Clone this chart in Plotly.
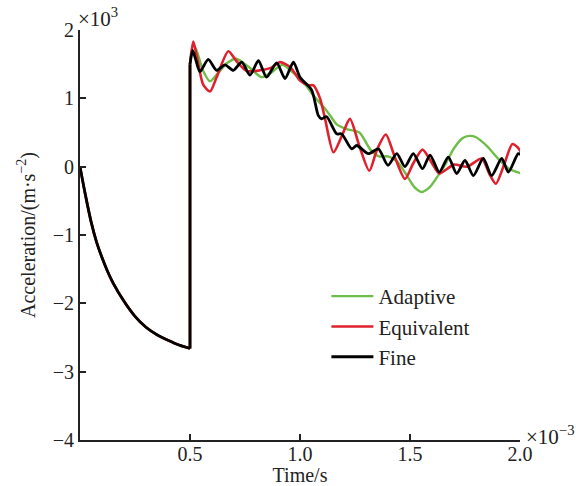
import plotly.graph_objects as go

# ---- data (time in 1e-3 s, acceleration in 1e3 m/s^2) ----
pre_t = [0, 0.025, 0.05, 0.075, 0.1, 0.125, 0.15, 0.2, 0.25, 0.3, 0.35, 0.4, 0.45, 0.5]
pre_a = [0, -0.42, -0.80, -1.10, -1.33, -1.53, -1.70, -1.97, -2.19, -2.35, -2.46, -2.54, -2.61, -2.66]

adaptive_t = [0.5, 0.515, 0.53, 0.56, 0.591, 0.63, 0.67, 0.71, 0.77, 0.825, 0.87, 0.92, 0.96,
              1.015, 1.061, 1.121, 1.167, 1.212, 1.27, 1.32, 1.36, 1.40, 1.44, 1.48, 1.52,
              1.553, 1.59, 1.63, 1.66, 1.70, 1.74, 1.77, 1.80, 1.85, 1.90, 1.95, 2.007]
adaptive_a = [1.50, 1.78, 1.70, 1.40, 1.25, 1.38, 1.52, 1.58, 1.45, 1.31, 1.38, 1.49, 1.40,
              1.24, 1.04, 0.82, 0.62, 0.55, 0.50, 0.25, 0.15, 0.15, 0.08, -0.10, -0.30,
              -0.37, -0.30, -0.12, 0.03, 0.27, 0.42, 0.45, 0.43, 0.30, 0.12, -0.03, -0.10]

equivalent_t = [0.5, 0.515, 0.535, 0.56, 0.591, 0.62, 0.674, 0.71, 0.758, 0.818, 0.87, 0.909,
                0.955, 1.0, 1.038, 1.061, 1.091, 1.114, 1.152, 1.19, 1.227, 1.27, 1.315, 1.35,
                1.39, 1.43, 1.477, 1.515, 1.557, 1.60, 1.633, 1.70, 1.76, 1.826, 1.86, 1.89,
                1.93, 1.965, 1.99, 2.007]
equivalent_a = [1.50, 1.83, 1.55, 1.20, 1.10, 1.30, 1.69, 1.55, 1.40, 1.41, 1.45, 1.53,
                1.46, 1.26, 1.19, 1.19, 1.00, 0.70, 0.21, 0.45, 0.70, 0.30, -0.06, 0.25,
                0.47, 0.15, -0.18, 0.05, 0.25, 0.05, -0.10, 0.03, 0.00, 0.12, -0.10, -0.25,
                0.05, 0.33, 0.28, 0.20]

fine_t = [0.5, 0.512, 0.525, 0.545, 0.583, 0.621, 0.659, 0.697, 0.735, 0.773, 0.811, 0.848,
          0.894, 0.932, 0.970, 1.0, 1.053, 1.083, 1.098, 1.121, 1.167, 1.189, 1.235, 1.258,
          1.311, 1.356, 1.40, 1.44, 1.477, 1.515, 1.557, 1.591, 1.633, 1.674, 1.712, 1.75,
          1.788, 1.833, 1.871, 1.917, 1.947, 1.992, 2.007]
fine_a = [1.50, 1.70, 1.58, 1.39, 1.57, 1.41, 1.49, 1.41, 1.53, 1.34, 1.55, 1.31,
          1.52, 1.29, 1.53, 1.31, 1.12, 0.75, 0.70, 0.73, 0.48, 0.48, 0.26, 0.31,
          0.19, 0.26, 0.02, 0.19, 0.00, 0.19, -0.03, 0.17, -0.08, 0.14, -0.10, 0.09,
          -0.13, 0.12, -0.13, 0.12, -0.08, 0.19, 0.17]

series = [
    ("Adaptive", adaptive_t, adaptive_a, "#6dbd48", 2.4),
    ("Equivalent", equivalent_t, equivalent_a, "#e0202c", 2.6),
    ("Fine", fine_t, fine_a, "#000000", 2.8),
]

FONT = "Liberation Serif, Times New Roman, serif"
FS = 20

fig = go.Figure()
for name, t, a, col, w in series:
    # smooth decay before the impact
    fig.add_trace(go.Scatter(
        x=pre_t, y=pre_a, mode="lines", name=name, legendgroup=name, showlegend=False,
        line=dict(color=col, width=w, shape="spline", smoothing=0.8), hoverinfo="skip"))
    # vertical jump at the impact instant
    fig.add_trace(go.Scatter(
        x=[pre_t[-1], t[0]], y=[pre_a[-1], a[0]], mode="lines", name=name,
        legendgroup=name, showlegend=False,
        line=dict(color=col, width=w), hoverinfo="skip"))
    # oscillating response after the impact
    fig.add_trace(go.Scatter(
        x=t, y=a, mode="lines", name=name, legendgroup=name, showlegend=True,
        line=dict(color=col, width=w, shape="spline", smoothing=0.7)))

fig.update_layout(
    width=576, height=486,
    margin=dict(l=80, r=56, t=30, b=46),
    paper_bgcolor="white", plot_bgcolor="white",
    font=dict(family=FONT, size=FS, color="#222"),
    showlegend=True,
    legend=dict(x=0.56, y=0.40, xanchor="left", yanchor="top",
                bgcolor="rgba(0,0,0,0)", font=dict(size=21, family=FONT),
                tracegroupgap=0, traceorder="grouped", itemwidth=42),
    xaxis=dict(range=[0, 2.0], showgrid=False, zeroline=False, automargin=False,
               showline=True, linecolor="#222", linewidth=2,
               ticks="inside", ticklen=6, tickwidth=1.5, tickcolor="#222",
               tickvals=[0.5, 1.0, 1.5, 2.0], ticktext=["0.5", "1.0", "1.5", "2.0"],
               ticklabelstandoff=-5,
               title=dict(text="Time/s", standoff=0, font=dict(size=FS))),
    yaxis=dict(range=[-4, 2], showgrid=False, zeroline=False, automargin=False,
               showline=True, linecolor="#222", linewidth=2,
               ticks="inside", ticklen=6, tickwidth=1.5, tickcolor="#222",
               tickvals=[-4, -3, -2, -1, 0, 1, 2],
               ticktext=["\u22124", "\u22123", "\u22122", "\u22121", "0", "1", "2"],
               title=dict(text="Acceleration/(m\u00b7s<sup>\u22122</sup>)", standoff=12,
                          font=dict(size=FS))),
    annotations=[
        dict(text="\u00d710<sup>3</sup>", xref="paper", yref="paper",
             x=-0.01, y=1.03, xanchor="left", yanchor="middle", showarrow=False,
             font=dict(size=21, family=FONT)),
        dict(text="\u00d710<sup>\u22123</sup>", xref="paper", yref="paper",
             x=1.01, y=0.01, xanchor="left", yanchor="middle", showarrow=False,
             font=dict(size=21, family=FONT)),
    ],
)

fig.write_html("out.html")
